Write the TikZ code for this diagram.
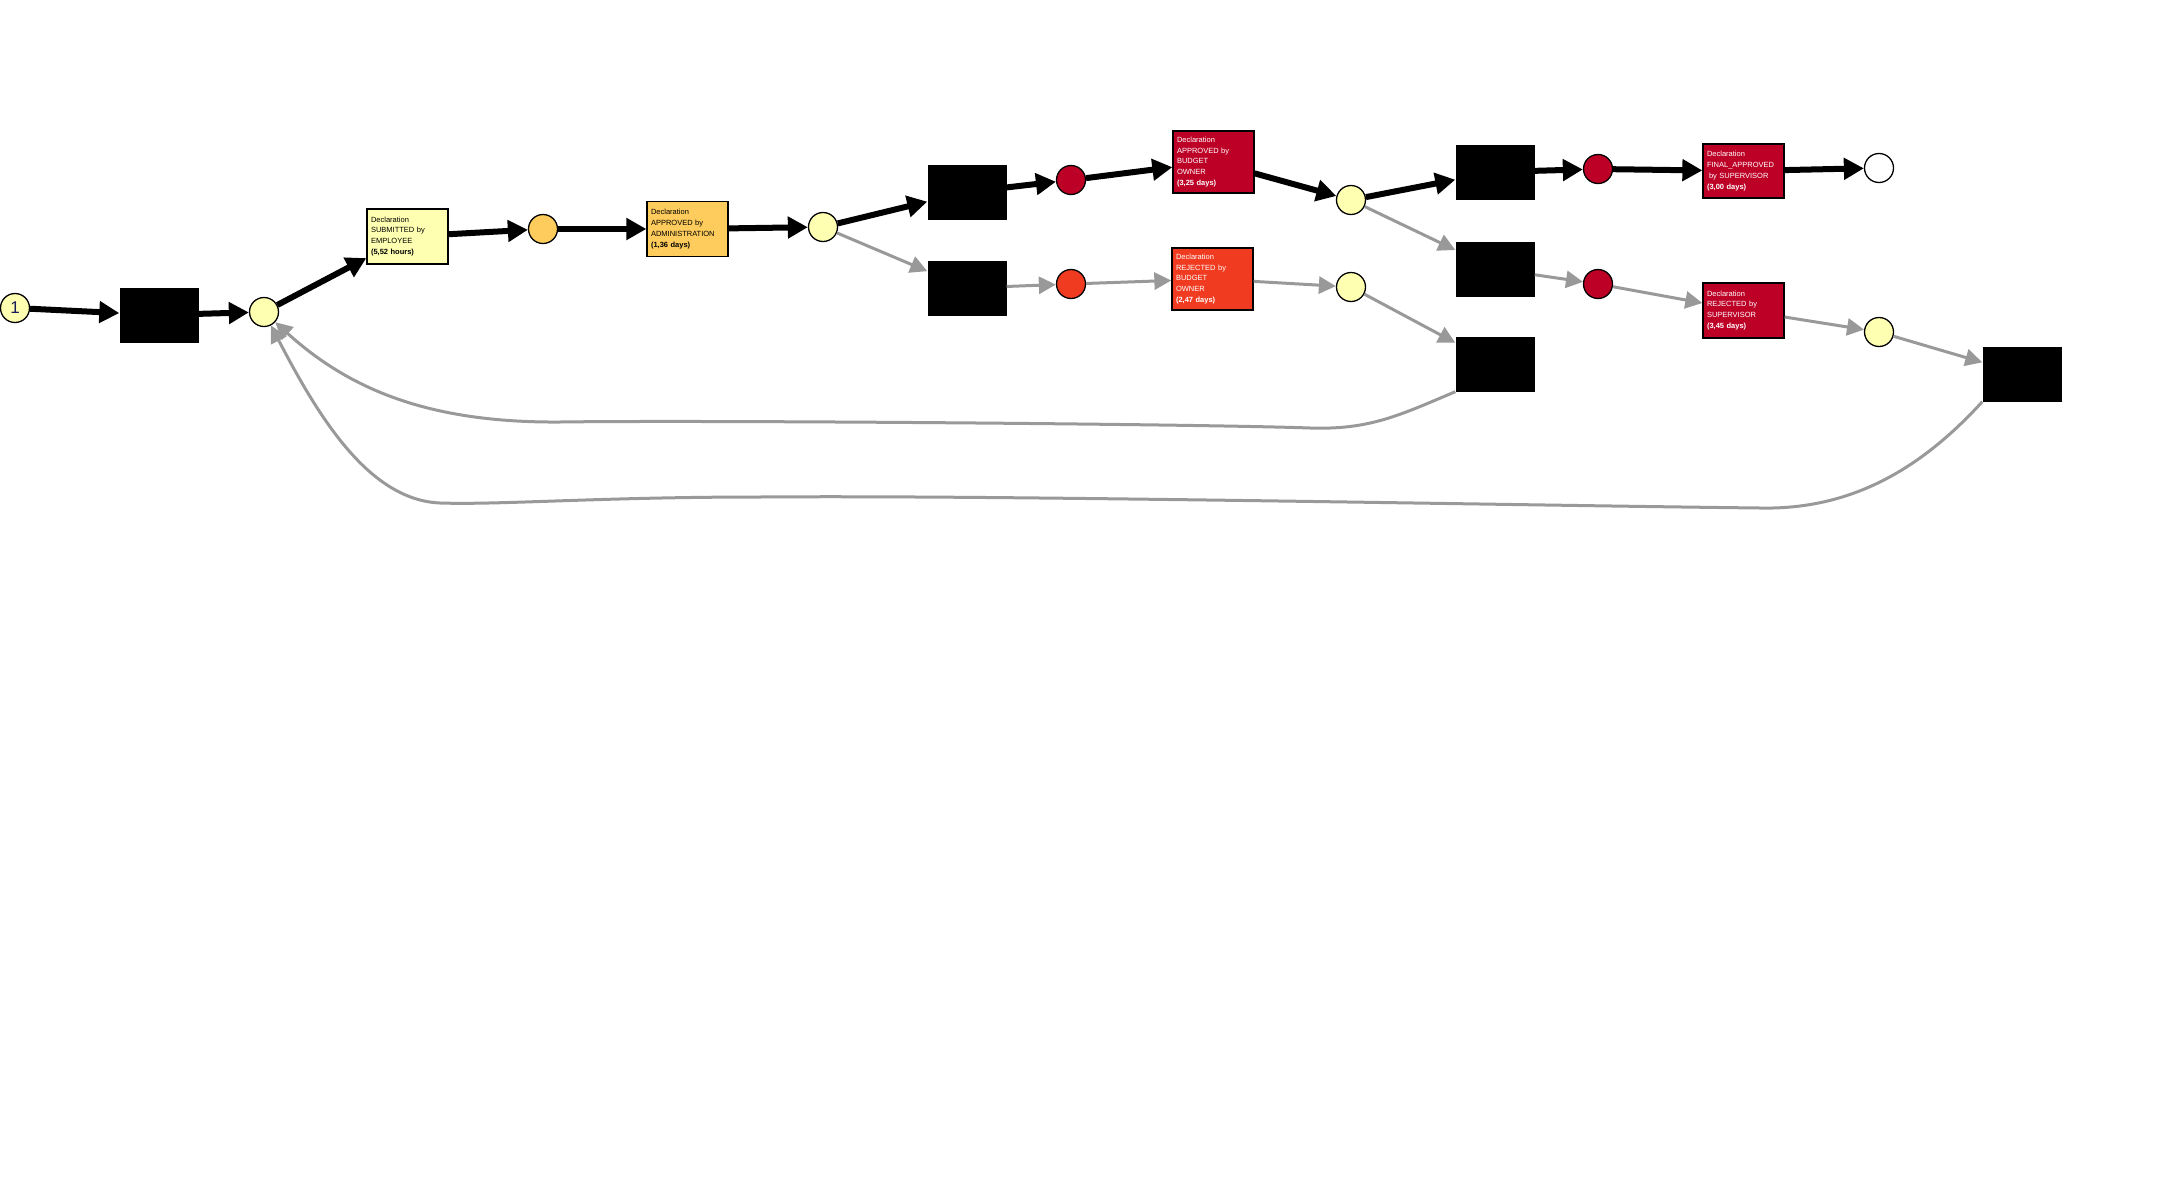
\documentclass[tikz,border=0pt]{standalone}
\usepackage{fontspec}
\setmainfont{Liberation Sans}
\usetikzlibrary{arrows.meta}
\definecolor{plYellow}{HTML}{FFFFB2}
\definecolor{plOrange}{HTML}{FECC5C}
\definecolor{plRed}{HTML}{BD0026}
\definecolor{plOrRed}{HTML}{F03B20}
\definecolor{edgeGray}{HTML}{999999}
\definecolor{startBlue}{HTML}{1A1A5C}

\begin{document}
\begin{tikzpicture}[
    x=1pt, y=-1pt,
    place/.style={circle, draw, line width=1.3pt, minimum size=29pt, inner sep=0pt},
    trans/.style={fill=black, minimum width=79pt, minimum height=55pt, inner sep=0pt},
    act/.style={draw, line width=1.3pt, minimum width=79pt, minimum height=55pt, inner xsep=4pt, inner ysep=2pt,
        text width=73pt, align=left, font=\fontsize{7.5}{10.9}\selectfont},
    mainarrow/.style={-{Triangle[length=20pt, width=21pt]}, line width=6pt, draw=black},
    sidearrow/.style={-{Triangle[length=17pt, width=17pt]}, line width=3pt, draw=edgeGray},
]
\useasboundingbox (0,0) rectangle (2172,1197);

% Places
\node[place, fill=plYellow, text=startBlue, font=\fontsize{17}{17}\selectfont] (pStart) at (15,308) {1};
\foreach \name/\x/\y/\col in {p1/264/312/plYellow, p2/543/229/plOrange, p3/823/227/plYellow,
    p4/1071/180/plRed, p5/1071/284/plOrRed, p6/1351/200/plYellow, p7/1351/287/plYellow,
    p8/1598/169/plRed, p9/1598/284/plRed, pEnd/1879/168/white, p10/1879/332/plYellow} {
    \node[place, fill=\col] (\name) at (\x,\y) {};
}

% Transitions
\foreach \name/\x/\y in {t1/159/315, tA/967/192, tB/967/288, tC/1495/172, tD/1495/269,
    tE/1495/364, tF/2022/374} {
    \node[trans] (\name) at (\x,\y) {};
}

% Activities
\node[act, fill=plYellow] (aSub) at (407.5,236.5) {Declaration\\SUBMITTED by\\EMPLOYEE\\\textbf{(5,52 hours)}};
\node[act, fill=plOrange] (aAdm) at (687.5,229) {Declaration\\APPROVED by\\ADMINISTRATION\\\textbf{(1,36 days)}};
\node[act, fill=plRed, text=white, minimum height=62pt] (aApBO) at (1213.5,162) {Declaration\\APPROVED by\\BUDGET\\OWNER\\\textbf{(3,25 days)}};
\node[act, fill=plOrRed, text=white, minimum height=62pt] (aRjBO) at (1212.5,279) {Declaration\\REJECTED by\\BUDGET\\OWNER\\\textbf{(2,47 days)}};
\node[act, fill=plRed, text=white, minimum height=54pt] (aFin) at (1743.5,171) {Declaration\\FINAL\_APPROVED\\\hspace{2pt}by SUPERVISOR\\\textbf{(3,00 days)}};
\node[act, fill=plRed, text=white] (aRjSup) at (1743.5,310.5) {Declaration\\REJECTED by\\SUPERVISOR\\\textbf{(3,45 days)}};

% Main path
\foreach \a/\b in {pStart/t1, t1/p1, p1/aSub, aSub/p2, p2/aAdm, aAdm/p3, p3/tA, tA/p4,
    p4/aApBO, aApBO/p6, p6/tC, tC/p8, p8/aFin, aFin/pEnd} {
    \draw[mainarrow] (\a) -- (\b);
}

% Side paths
\foreach \a/\b in {p3/tB, tB/p5, p5/aRjBO, aRjBO/p7, p6/tD, tD/p9, p9/aRjSup, aRjSup/p10,
    p7/tE, p10/tF} {
    \draw[sidearrow] (\a) -- (\b);
}

% Loops back
\draw[sidearrow] (tE.south west) .. controls (1400,415) and (1370,430) .. (1310,428)
    .. controls (1200,424) and (700,420) .. (560,422)
    .. controls (430,423) and (350,390) .. (p1);
\draw[sidearrow] (tF.south west) .. controls (1920,470) and (1850,510) .. (1760,508)
    .. controls (1500,505) and (1000,495) .. (760,497)
    .. controls (600,497) and (500,505) .. (440,503)
    .. controls (370,500) and (320,420) .. (p1);

\end{tikzpicture}
\end{document}
